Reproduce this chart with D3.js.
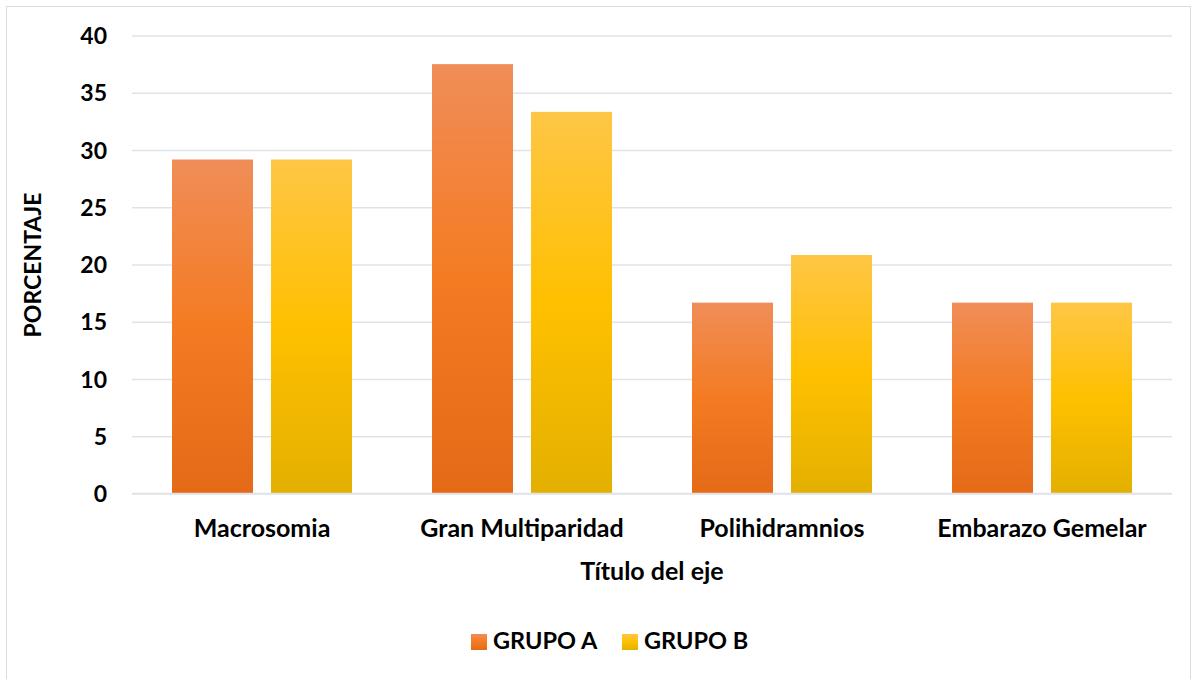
<!DOCTYPE html>
<html>
<head>
<meta charset="utf-8">
<script src="https://cdn.jsdelivr.net/npm/d3@7/dist/d3.min.js"></script>
<style>
  body { margin: 0; background: #ffffff; }
  svg text { font-family: Lato, "Open Sans", sans-serif; font-weight: 700; fill: #000; }
</style>
</head>
<body>
<svg id="chart" width="1198" height="679"></svg>
<script>
const categories = ["Macrosomia", "Gran Multiparidad", "Polihidramnios", "Embarazo Gemelar"];
const seriesNames = ["GRUPO A", "GRUPO B"];
const grupoA = [29.17, 37.5, 16.67, 16.67];
const grupoB = [29.17, 33.33, 20.83, 16.67];
const yTicks = [0, 5, 10, 15, 20, 25, 30, 35, 40];

const svg = d3.select("#chart");
const plot = { left: 132, right: 1172, top: 35.5, bottom: 493.5 };
const FONT = "Lato, 'Open Sans', sans-serif";

// outer frame
svg.append("rect").attr("x", 6.5).attr("y", 6.5).attr("width", 1184).attr("height", 680)
  .attr("fill", "#fff").attr("stroke", "#d9dde3").attr("stroke-width", 1);

// vertical gradients for the two series
const defs = svg.append("defs");
function grad(id, stops) {
  const g = defs.append("linearGradient").attr("id", id)
    .attr("x1", 0).attr("y1", 0).attr("x2", 0).attr("y2", 1);
  stops.forEach(([o, c]) => g.append("stop").attr("offset", o).attr("stop-color", c));
}
grad("gA", [[0, "#f08d58"], [0.5, "#f47b22"], [1, "#e46a18"]]);
grad("gB", [[0, "#fec646"], [0.5, "#ffc000"], [1, "#e3b000"]]);
const fills = ["url(#gA)", "url(#gB)"];

const y = d3.scaleLinear().domain([0, 40]).range([plot.bottom, plot.top]);
const x0 = d3.scaleBand().domain(categories).range([plot.left, plot.right]);
const x1 = d3.scaleBand().domain(seriesNames).range([40, 220]).paddingInner(0.182);

// value axis with gridlines
const yAxis = d3.axisLeft(y).tickValues(yTicks).tickSize(-(plot.right - plot.left)).tickPadding(25);
const gy = svg.append("g").attr("transform", `translate(${plot.left},0)`).call(yAxis);
gy.select(".domain").remove();
gy.selectAll(".tick line").attr("stroke", "#dfe3e8").attr("stroke-width", 1.5);
gy.selectAll(".tick text").attr("font-size", 23).attr("dy", "0.35em")
  .style("font-family", FONT).style("font-weight", 700).attr("fill", "#000");

// bars
const data = categories.map((c, i) => ({ c, vals: [grupoA[i], grupoB[i]] }));
const groups = svg.append("g").selectAll("g").data(data).join("g")
  .attr("transform", d => `translate(${x0(d.c)},0)`);
groups.selectAll("rect").data(d => d.vals.map((v, j) => ({ v, j })))
  .join("rect")
  .attr("x", d => x1(seriesNames[d.j]))
  .attr("width", x1.bandwidth())
  .attr("y", d => y(d.v))
  .attr("height", d => y(0) - y(d.v))
  .attr("fill", d => fills[d.j]);

// baseline
svg.append("line").attr("x1", plot.left).attr("x2", plot.right)
  .attr("y1", y(0)).attr("y2", y(0)).attr("stroke", "#dfe3e8").attr("stroke-width", 1.5);

// category axis
const xAxis = d3.axisBottom(x0).tickSize(0).tickPadding(26);
const gx = svg.append("g").attr("transform", `translate(0,${plot.bottom})`).call(xAxis);
gx.select(".domain").remove();
gx.selectAll(".tick text").attr("font-size", 25)
  .style("font-family", FONT).style("font-weight", 700).attr("fill", "#000");

// axis titles
svg.append("text").attr("x", 652).attr("y", 580).attr("text-anchor", "middle")
  .attr("font-size", 25).text("Título del eje");
svg.append("text").attr("transform", "translate(41,265) rotate(-90)")
  .attr("text-anchor", "middle").attr("font-size", 23).text("PORCENTAJE");

// legend
const legend = svg.append("g");
const legendX = [471, 622];
seriesNames.forEach((s, i) => {
  legend.append("rect").attr("x", legendX[i]).attr("y", 634).attr("width", 16).attr("height", 16)
    .attr("fill", fills[i]);
  legend.append("text").attr("x", legendX[i] + 22).attr("y", 649).attr("font-size", 23.5).text(s);
});
</script>
</body>
</html>
